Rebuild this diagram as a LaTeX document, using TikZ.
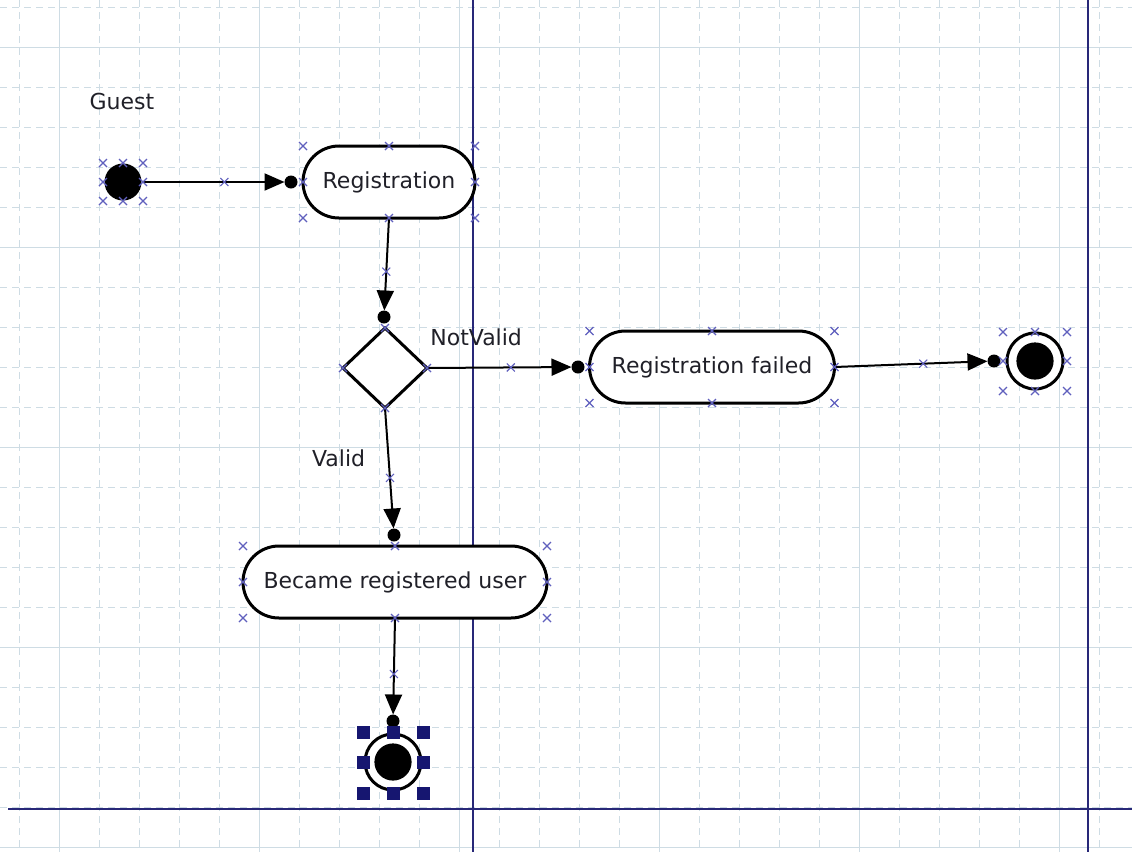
\documentclass[tikz,border=0pt]{standalone}
\usepackage{fontspec}
\setmainfont{DejaVu Sans}
\usetikzlibrary{arrows.meta,shapes.geometric,decorations.markings,calc}
\definecolor{gridc}{RGB}{206,220,228}
\definecolor{lanec}{RGB}{40,40,120}
\definecolor{portc}{RGB}{96,96,190}
\definecolor{handc}{RGB}{22,22,112}
\definecolor{txtc}{RGB}{32,32,40}

\tikzset{
  xm/.pic={\draw[portc, line width=0.55pt, arrows=-] (-4,-4) -- (4,4) (-4,4) -- (4,-4);},
  hd/.pic={\fill[handc] (-6.5,-6.5) rectangle (6.5,6.5);},
  txt/.style={font=\fontsize{11pt}{13pt}\selectfont, text=txtc},
  lbl/.style={txt, inner sep=0pt},
  action/.style={txt, draw=black, line width=1.5pt, fill=white, rounded corners=18pt,
    minimum height=36pt, inner sep=0pt, outer sep=0pt},
  decision/.style={diamond, draw=black, line width=1.5pt, fill=white,
    minimum width=42pt, minimum height=40pt, inner sep=0pt, outer sep=0pt},
  initial/.style={circle, fill=black, minimum size=18.5pt, inner sep=0pt, outer sep=0pt},
  final/.style={circle, draw=black, line width=1.5pt, fill=white, minimum size=28pt,
    inner sep=0pt, outer sep=0pt,
    path picture={\fill[black] (path picture bounding box.center) circle[radius=9.3pt];}},
  pindot/.style={circle, fill=black, minimum size=6.5pt, inner sep=0pt, outer sep=0pt},
  flow/.style={draw=black, line width=1pt, -{Triangle[length=10pt,width=8.5pt]},
    postaction={decorate, decoration={markings,
      mark=at position 0.58 with {\pic{xm};}}}},
  gridline/.style={gridc, line width=0.5pt},
  gridminor/.style={gridline, dash pattern=on 3.5pt off 2.5pt},
  lane/.style={lanec, line width=1pt}
}

\begin{document}
\begin{tikzpicture}[x=0.5pt,y=-0.5pt]
\useasboundingbox (0,0) rectangle (1132,852);
\fill[white] (0,0) rectangle (1132,852);

% background grid
\begin{scope}
  \clip (0,0) rectangle (1132,852);
  \foreach \x in {19,59,...,1131} \draw[gridminor] (\x,0) -- (\x,852);
  \foreach \y in {7,47,...,852} \draw[gridminor] (0,\y) -- (1132,\y);
  \foreach \x in {59,259,...,1131} \draw[gridline] (\x,0) -- (\x,852);
  \foreach \y in {47,247,...,852} \draw[gridline] (0,\y) -- (1132,\y);
\end{scope}

% swimlane borders
\draw[lane] (473,0) -- (473,852);
\draw[lane] (1088,0) -- (1088,852);
\draw[lane] (8,809) -- (1132,809);

\node[lbl] (guest) at (122,101) {Guest};

% activity nodes
\node[initial] (init) at (123,182) {};
\node[action, minimum width=86pt] (reg) at (389,182) {Registration};
\node[decision] (dec) at (385,368) {};
\node[action, minimum width=122.5pt] (fail) at (712,367) {Registration failed};
\node[final] (fin1) at (1035,361) {};
\node[action, minimum width=152pt] (became) at (395,582) {Became registered user};
\node[final] (fin2) at (393,762) {};

% connection points in front of the targets
\node[pindot] (d1) at (291,182) {};
\node[pindot] (d2) at (384,317) {};
\node[pindot] (d3) at (578,367) {};
\node[pindot] (d4) at (994,361) {};
\node[pindot] (d5) at (394,535) {};
\node[pindot] (d6) at (393,721) {};

% transitions
\draw[flow] (init) -- (d1);
\draw[flow] (reg.south) -- (d2);
\draw[flow] (dec.east) -- node[lbl, pos=0.34, yshift=15pt] (nv) {NotValid} (d3);
\draw[flow] (fail.east) -- (d4);
\draw[flow] (dec.south) -- node[lbl, pos=0.42, xshift=-25pt] (va) {Valid} (d5);
\draw[flow] (became.south) -- (d6);

% port markers
\foreach \n in {reg,fail,became}
  \foreach \a in {north west,north,north east,east,south east,south,south west,west}
    \pic at (\n.\a) {xm};
\foreach \a in {north,east,south,west} \pic at (dec.\a) {xm};
\foreach \dx/\dy in {-20/-19,0/-19,20/-19,-20/0,20/0,-20/19,0/19,20/19}
  \pic at ($(init)+(\dx,\dy)$) {xm};
\foreach \dx/\dy in {-32/-29,0/-29,32/-29,-32/0,32/0,-32/30,0/30,32/30}
  \pic at ($(fin1)+(\dx,\dy)$) {xm};

% selection handles
\foreach \dx/\dy in {-30/-30,0/-30,30/-30,-30/0,30/0,-30/31,0/31,30/31}
  \pic at ($(fin2)+(\dx,\dy)$) {hd};
\end{tikzpicture}
\end{document}
